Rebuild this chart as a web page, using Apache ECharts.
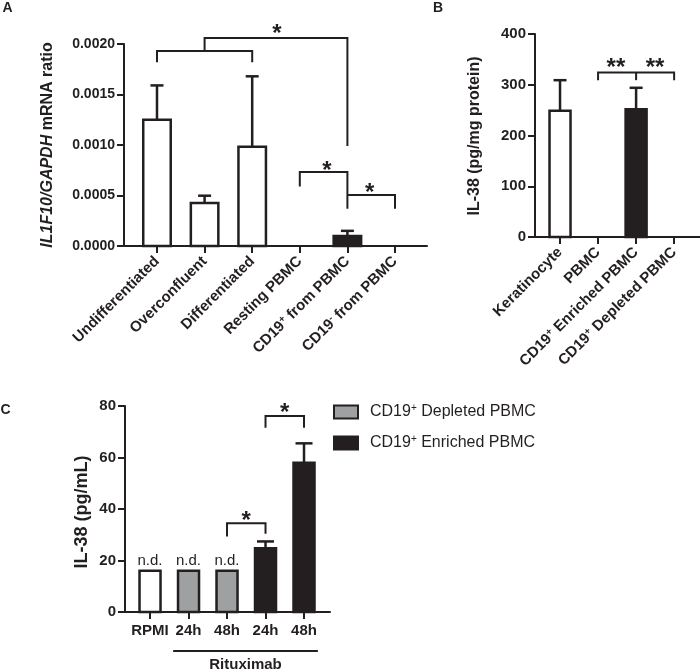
<!DOCTYPE html>
<html><head><meta charset="utf-8">
<script src="https://cdn.jsdelivr.net/npm/echarts@6/dist/echarts.min.js"></script>
<style>html,body{margin:0;padding:0;background:#fff}#c{width:700px;height:670px}</style>
</head><body><div id="c"></div>
<script>
// ---------- Panel A ----------
const catsA = ['Undifferentiated','Overconfluent','Differentiated','Resting PBMC','CD19+ from PBMC','CD19- from PBMC'];
const valsA = [0.00125, 0.000426, 0.000983, 0, 0.0001, 0];
const errA  = [0.00159, 0.000498, 0.00168, 0, 0.00015, 0];
const fillA = ['white','white','white','white','black','white'];
const bracketsA = [
  [[0,0.00182],[0,0.00193],[2,0.00193],[2,0.00182]],
  [[1,0.00193],[1,0.00206],[4,0.00206],[4,0.00099]],
  [[3,0.00059],[3,0.000733],[4,0.000733],[4,0.00037]],
  [[4,0.000505],[5,0.000505],[5,0.00037]]
];
const starsA = [[2.52,0.00215,'*'],[3.57,0.00080,'*'],[4.47,0.00058,'*']];

// ---------- Panel B ----------
const catsB = ['Keratinocyte','PBMC','CD19+ Enriched PBMC','CD19+ Depleted PBMC'];
const valsB = [249, 0, 251.5, 0];
const errB  = [309, 0, 294, 0];
const fillB = ['white','white','black','white'];
const bracketsB = [
  [[1,309],[1,324],[3,324],[3,309]],
  [[2,324],[2,309]]
];
const starsB = [[1.47,345,'**'],[2.5,345,'**']];

// ---------- Panel C ----------
const catsC = ['RPMI','24h','48h','24h','48h'];
const valsC = [16, 16, 16, 24.8, 58];
const errC  = [16, 16, 16, 27.4, 65.5];
const groupC = ['RPMI','CD19+ Depleted PBMC','CD19+ Depleted PBMC','CD19+ Enriched PBMC','CD19+ Enriched PBMC'];
const ndC = ['n.d.','n.d.','n.d.','',''];
const bracketsC = [
  [[2,29.3],[2,34.5],[3,34.5],[3,30.4]],
  [[3,71.6],[3,76.1],[4,76.1],[4,71.6]]
];
const starsC = [[2.5,37.7,'*'],[3.5,79.6,'*']];
const ritSpan = [0.6, 4.36];
const ritLabel = 'Rituximab';

// ---------- styling ----------
const INK = '#231f20';
const FONT = '"Liberation Sans", Arial, sans-serif';
const COLORS = {white:'#ffffff', black:'#231f20', gray:'#9fa0a2'};
const groupColor = {'RPMI':'white','CD19+ Depleted PBMC':'gray','CD19+ Enriched PBMC':'black'};
const supRich = {sup:{fontSize:10, fontWeight:'bold', fontFamily:FONT, color:INK, verticalAlign:'top', padding:[0,0,7,0]}};
const fmtSup = s => s.replace(/CD19([+-])/, 'CD19{sup|$1}');

function barSeries(name, axis, idx, vals, errs, fills, barW, capW) {
  return {
    type:'custom', name, xAxisIndex:axis, yAxisIndex:axis, clip:false,
    itemStyle:{color: COLORS[fills[0]], borderColor:INK, borderWidth:2},
    data: idx.map(i => [i, vals[i], errs[i]]),
    renderItem(params, api) {
      const k = params.dataIndex;
      const x = api.value(0), v = api.value(1), e = api.value(2);
      const ch = [];
      if (v > 0) {
        const b = api.coord([x,0]), t = api.coord([x,v]);
        ch.push({type:'rect', shape:{x:b[0]-barW/2, y:t[1], width:barW, height:b[1]-t[1]},
          style:{fill:COLORS[fills[k]], stroke:INK, lineWidth:2.5}});
        if (e > v) {
          const et = api.coord([x,e]);
          ch.push({type:'line', shape:{x1:b[0], y1:t[1], x2:b[0], y2:et[1]}, style:{stroke:INK, lineWidth:2.5}});
          ch.push({type:'line', shape:{x1:b[0]-capW/2, y1:et[1], x2:b[0]+capW/2, y2:et[1]}, style:{stroke:INK, lineWidth:2.5}});
        }
      }
      return {type:'group', children:ch};
    }
  };
}
function bracketSeries(axis, brackets) {
  return {
    type:'custom', xAxisIndex:axis, yAxisIndex:axis, clip:false, silent:true,
    data: brackets.map((b,i)=>[i]),
    renderItem(params, api) {
      const pts = brackets[params.dataIndex].map(p => api.coord(p));
      return {type:'polyline', shape:{points:pts}, style:{stroke:INK, lineWidth:2, fill:null}};
    }
  };
}
function starSeries(axis, stars) {
  return {
    type:'custom', xAxisIndex:axis, yAxisIndex:axis, clip:false, silent:true,
    data: stars.map(s=>[s[0], s[1]]),
    renderItem(params, api) {
      const p = api.coord([api.value(0), api.value(1)]);
      return {type:'text', x:p[0], y:p[1]+6, style:{text:stars[params.dataIndex][2], fontSize:24, fontWeight:'bold',
        fontFamily:FONT, fill:INK, align:'center', verticalAlign:'middle'}};
    }
  };
}
function xAxis(grid, min, max, cats, rotate, fontSize, margin) {
  const cv = cats.map((c,i)=>i);
  return {
    gridIndex:grid, type:'value', min, max,
    axisLine:{show:true, onZero:false, lineStyle:{color:INK, width:2}},
    splitLine:{show:false},
    axisTick:{show:true, customValues:cv, length:7, lineStyle:{color:INK, width:2}},
    axisLabel:{customValues:cv, rotate, margin, fontSize, fontWeight:'bold', fontFamily:FONT, color:INK,
      formatter: v => fmtSup(cats[Math.round(v)] || ''), rich:supRich}
  };
}
function yAxis(grid, max, interval, fmt, fontSize) {
  return {
    gridIndex:grid, type:'value', min:0, max, interval,
    axisLine:{show:true, onZero:false, lineStyle:{color:INK, width:2}},
    splitLine:{show:false},
    axisTick:{show:true, length:7, lineStyle:{color:INK, width:2}},
    axisLabel:{margin:9, fontSize, fontWeight:'bold', fontFamily:FONT, color:INK, formatter:fmt}
  };
}

const chart = echarts.init(document.getElementById('c'), null, {renderer:'canvas'});
const idxC = g => valsC.map((v,i)=>i).filter(i=>groupC[i]===g);

const option = {
  animation:false,
  backgroundColor:'#fff',
  grid:[
    {left:124, top:44, width:303, height:202},
    {left:535, top:34, width:165, height:203},
    {left:125, top:406, width:205, height:206}
  ],
  xAxis:[
    xAxis(0, -0.693, 5.672, catsA, 45, 15, 13),
    xAxis(1, -0.658, 3.68, catsB, 45, 15, 13),
    xAxis(2, -0.65, 4.675, catsC, 0, 15, 11)
  ],
  yAxis:[
    yAxis(0, 0.002, 0.0005, v=>v.toFixed(4), 14),
    yAxis(1, 400, 100, v=>String(v), 15),
    yAxis(2, 80, 20, v=>String(v), 15)
  ],
  legend:{
    orient:'vertical', left:333, top:403, padding:0, itemWidth:24, itemHeight:13, itemGap:14,
    icon:'rect', selectedMode:false,
    data:[
      {name:'CD19+ Depleted PBMC', itemStyle:{color:COLORS.gray, borderColor:INK, borderWidth:2}},
      {name:'CD19+ Enriched PBMC', itemStyle:{color:COLORS.black, borderColor:INK, borderWidth:2}}
    ],
    formatter: n => fmtSup(n),
    textStyle:{fontSize:16, fontFamily:FONT, color:INK, padding:[0,0,0,7],
      rich:{sup:{fontSize:10, fontFamily:FONT, color:INK, verticalAlign:'top', padding:[0,0,8,0]}}}
  },
  graphic:[
    {type:'text', x:7.5, y:8, style:{text:'A', fontSize:14, fontWeight:'bold', fontFamily:FONT, fill:INK, align:'center', verticalAlign:'middle'}},
    {type:'text', x:438, y:8, style:{text:'B', fontSize:14, fontWeight:'bold', fontFamily:FONT, fill:INK, align:'center', verticalAlign:'middle'}},
    {type:'text', x:5.5, y:410, style:{text:'C', fontSize:14, fontWeight:'bold', fontFamily:FONT, fill:INK, align:'center', verticalAlign:'middle'}},
    {type:'text', x:48, y:145, rotation:Math.PI/2, style:{text:'{i|IL1F10/GAPDH} mRNA ratio', fontSize:16, fontWeight:'bold', fontFamily:FONT, fill:INK, align:'center', verticalAlign:'middle',
      rich:{i:{fontSize:16, fontWeight:'bold', fontStyle:'italic', fontFamily:FONT, fill:INK}}}},
    {type:'text', x:475, y:136, rotation:Math.PI/2, style:{text:'IL-38 (pg/mg protein)', fontSize:16, fontWeight:'bold', fontFamily:FONT, fill:INK, align:'center', verticalAlign:'middle'}},
    {type:'text', x:82, y:512, rotation:Math.PI/2, style:{text:'IL-38 (pg/mL)', fontSize:18, fontWeight:'bold', fontFamily:FONT, fill:INK, align:'center', verticalAlign:'middle'}}
  ],
  series:[
    barSeries('A', 0, valsA.map((v,i)=>i), valsA, errA, fillA, 27.5, 13),
    bracketSeries(0, bracketsA),
    starSeries(0, starsA),
    barSeries('B', 1, valsB.map((v,i)=>i), valsB, errB, fillB, 21, 13),
    bracketSeries(1, bracketsB),
    starSeries(1, starsB),
    barSeries('RPMI', 2, idxC('RPMI'), valsC, errC, idxC('RPMI').map(i=>groupColor[groupC[i]]), 21, 17),
    barSeries('CD19+ Depleted PBMC', 2, idxC('CD19+ Depleted PBMC'), valsC, errC, idxC('CD19+ Depleted PBMC').map(i=>groupColor[groupC[i]]), 21, 17),
    barSeries('CD19+ Enriched PBMC', 2, idxC('CD19+ Enriched PBMC'), valsC, errC, idxC('CD19+ Enriched PBMC').map(i=>groupColor[groupC[i]]), 21, 17),
    bracketSeries(2, bracketsC),
    starSeries(2, starsC),
    {
      type:'custom', xAxisIndex:2, yAxisIndex:2, clip:false, silent:true,
      data: ndC.map((t,i)=>[i, valsC[i]]),
      renderItem(params, api) {
        const t = ndC[params.dataIndex];
        if (!t) return null;
        const p = api.coord([api.value(0), api.value(1)]);
        return {type:'text', x:p[0], y:p[1]-10, style:{text:t, fontSize:15, fontFamily:FONT, fill:INK, align:'center', verticalAlign:'middle'}};
      }
    },
    {
      type:'custom', xAxisIndex:2, yAxisIndex:2, clip:false, silent:true,
      data:[[ritSpan[0], ritSpan[1]]],
      renderItem(params, api) {
        const a = api.coord([api.value(0), 0]), b = api.coord([api.value(1), 0]);
        return {type:'group', children:[
          {type:'line', shape:{x1:a[0], y1:a[1]+39, x2:b[0], y2:a[1]+39}, style:{stroke:INK, lineWidth:2}},
          {type:'text', x:(a[0]+b[0])/2, y:a[1]+53, style:{text:ritLabel, fontSize:15, fontWeight:'bold', fontFamily:FONT, fill:INK, align:'center', verticalAlign:'middle'}}
        ]};
      }
    }
  ]
};
chart.setOption(option);
</script></body></html>
